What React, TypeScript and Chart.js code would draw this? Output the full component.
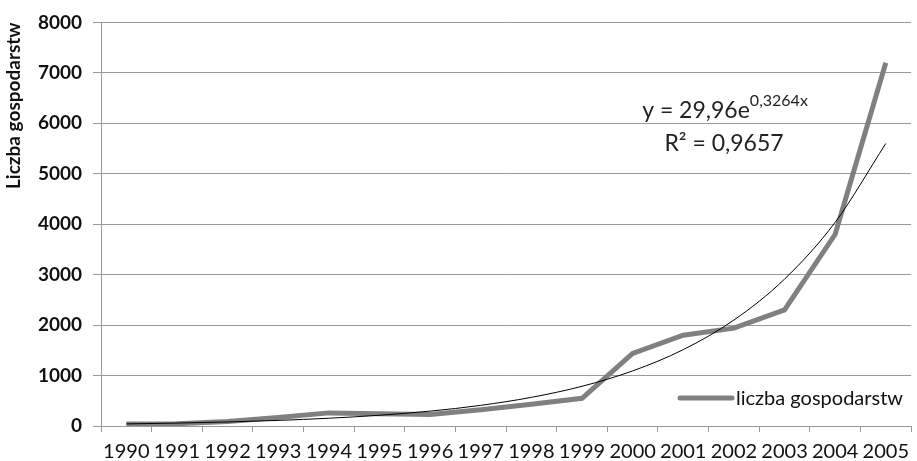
import React, { useEffect, useRef } from "react";
import { Chart, registerables } from "chart.js";

Chart.register(...registerables);

const years = ["1990","1991","1992","1993","1994","1995","1996","1997","1998","1999","2000","2001","2002","2003","2004","2005"];
const households = [40, 45, 90, 170, 260, 245, 230, 320, 430, 550, 1440, 1800, 1940, 2300, 3800, 7200];
const trendValues = [42, 58, 80, 111, 154, 213, 295, 409, 568, 787, 1092, 1514, 2100, 2912, 4038, 5600];
const yTicks = [0, 1000, 2000, 3000, 4000, 5000, 6000, 7000, 8000];
const seriesName = "liczba gospodarstw";
const axisTitle = "Liczba gospodarstw";
const eqMain = "y = 29,96e";
const eqSup = "0,3264x";
const eqR2 = "R² = 0,9657";

const FONT = "Lato, 'Open Sans', sans-serif";

const overlay = {
  id: "overlay",
  afterDraw(chart: any) {
    const ctx = chart.ctx;
    ctx.save();
    ctx.fillStyle = "#222";
    ctx.textBaseline = "alphabetic";
    ctx.font = `23px ${FONT}`;
    const w1 = ctx.measureText(eqMain).width;
    ctx.font = `16px ${FONT}`;
    const w2 = ctx.measureText(eqSup).width;
    const total = w1 + w2;
    const cx = 725;
    const x = cx - total / 2;
    ctx.font = `23px ${FONT}`;
    ctx.textAlign = "left";
    ctx.fillText(eqMain, x, 118);
    ctx.font = `16px ${FONT}`;
    ctx.fillText(eqSup, x + w1, 106);
    ctx.font = `23px ${FONT}`;
    ctx.textAlign = "center";
    ctx.fillText(eqR2, 724, 151);
    // legend
    ctx.strokeStyle = "#808080";
    ctx.lineWidth = 5;
    ctx.lineCap = "round";
    ctx.beginPath();
    ctx.moveTo(680, 398);
    ctx.lineTo(732, 398);
    ctx.stroke();
    ctx.fillStyle = "#111";
    ctx.textAlign = "left";
    ctx.font = `20px ${FONT}`;
    ctx.fillText(seriesName, 736, 405);
    ctx.restore();
  },
};

export default function App() {
  const ref = useRef<HTMLCanvasElement | null>(null);
  useEffect(() => {
    if (!ref.current) return;
    const chart = new Chart(ref.current, {
      type: "line",
      data: {
        labels: years,
        datasets: [
          {
            label: "trend",
            data: trendValues,
            borderColor: "#000",
            borderWidth: 1,
            pointRadius: 0,
            tension: 0.4,
            cubicInterpolationMode: "monotone",
          },
          {
            label: seriesName,
            data: households,
            borderColor: "#808080",
            borderWidth: 5,
            pointRadius: 0,
            tension: 0,
          },
        ],
      },
      options: {
        animation: false,
        responsive: false,
        layout: { padding: { top: 22, right: 0, left: 0, bottom: 0 } },
        plugins: { legend: { display: false }, tooltip: { enabled: false } },
        scales: {
          x: {
            offset: true,
            grid: { drawOnChartArea: false, drawTicks: true, tickLength: 6, color: "#999", offset: true },
            border: { color: "#999" },
            ticks: { color: "#111", font: { family: FONT, size: 20 }, padding: 8, maxRotation: 0, autoSkip: false },
            afterFit: (s: any) => { s.height = 35; },
          },
          y: {
            min: 0,
            max: 8000,
            afterBuildTicks: (s: any) => { s.ticks = yTicks.map((v) => ({ value: v })); },
            grid: { color: "#999", tickLength: 8 },
            border: { color: "#999" },
            ticks: {
              color: "#111",
              font: { family: FONT, size: 19, weight: "bold" },
              padding: 11,
              callback: (v: any) => String(v),
            },
            title: {
              display: true,
              text: axisTitle,
              align: "end",
              color: "#111",
              font: { family: FONT, size: 19, weight: "bold" },
              padding: { top: 2, bottom: 0 },
            },
            afterFit: (s: any) => { s.width = 101; },
          },
        },
      },
      plugins: [overlay],
    } as any);
    return () => chart.destroy();
  }, []);
  return (
    <div style={{ position: "absolute", left: 0, top: 0, width: 917, height: 461, background: "#fff" }}>
      <canvas ref={ref} width={917} height={461} />
    </div>
  );
}
